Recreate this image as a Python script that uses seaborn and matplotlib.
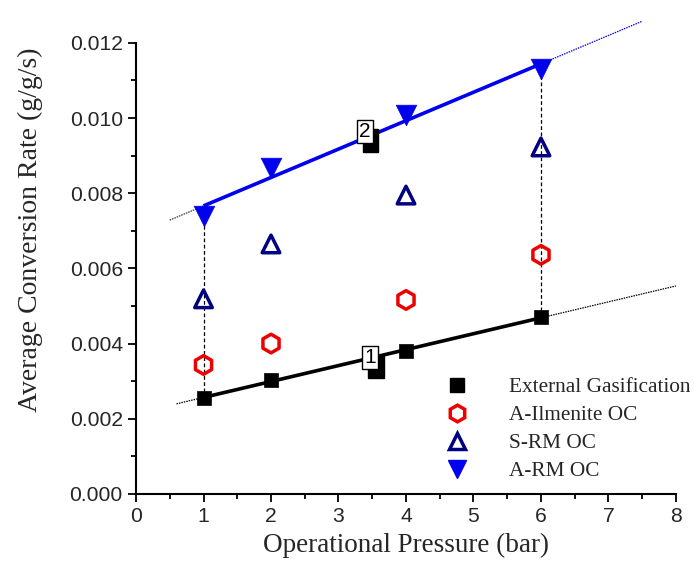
import numpy as np
import pandas as pd
import matplotlib
matplotlib.use("Agg")
import matplotlib.pyplot as plt
import seaborn as sns
from matplotlib.ticker import MultipleLocator, FormatStrFormatter
from matplotlib.lines import Line2D

pressure = [1, 2, 4, 6]
external_gasification = [0.00255, 0.00303, 0.00380, 0.00470]
a_ilmenite = [0.00343, 0.00400, 0.00516, 0.00636]
s_rm = [0.00519, 0.00665, 0.00795, 0.00923]
a_rm = [0.00740, 0.00867, 0.01008, 0.01130]
series_names = ["External Gasification", "A-Ilmenite OC", "S-RM OC", "A-RM OC"]

sns.set_style("ticks")
plt.rcParams["font.family"] = ["Liberation Sans", "DejaVu Sans"]

fig = plt.figure(figsize=(6.94, 5.71), dpi=100)
ax = fig.add_axes([0.196, 0.135, 0.778, 0.790])

serif = ["Liberation Serif", "DejaVu Serif"]

# fit lines
def fit_line(y, color, left_color, x_solid, x_left, x_right):
    k, b = np.polyfit(pressure, y, 1)
    xs = np.array(x_solid)
    ax.plot(xs, k * xs + b, color=color, lw=2.6, zorder=2, solid_capstyle="butt")
    xl = np.array([x_left, x_solid[0]])
    ax.plot(xl, k * xl + b, color=left_color, lw=0.9, ls=(0, (1.2, 0.8)), zorder=1,
            clip_on=False)
    xr = np.array([x_solid[1], x_right])
    ax.plot(xr, k * xr + b, color=color, lw=0.9, ls=(0, (1.2, 0.8)), zorder=1,
            clip_on=False)
    return k, b

fit_line(external_gasification, "black", "black", [1, 6], 0.6, 8.0)
fit_line(a_rm, "#0000ee", "#333333", [1, 6], 0.5, 7.5)

# vertical guides
for i in [0, 3]:
    ax.plot([pressure[i], pressure[i]], [external_gasification[i], a_rm[i]],
            color="black", lw=0.9, ls=(0, (3, 2)), zorder=1)

sns.scatterplot(x=pressure, y=external_gasification, marker="s", s=115,
                color="black", edgecolor="black", linewidth=0.5, ax=ax, zorder=4)
sns.scatterplot(x=pressure, y=a_ilmenite, marker="h", s=180,
                facecolor="none", edgecolor="#ee0000", linewidth=2.5, ax=ax, zorder=4)
sns.scatterplot(x=pressure, y=s_rm, marker="^", s=160,
                facecolor="none", edgecolor="#000080", linewidth=2.5, ax=ax, zorder=4)
sns.scatterplot(x=pressure, y=a_rm, marker="v", s=220,
                color="#0000ee", edgecolor="#0000ee", linewidth=0.5, ax=ax, zorder=4)

# labels with shadow
for txt, (lx, ly) in [("1", (3.47, 0.00362)), ("2", (3.39, 0.00963))]:
    ax.annotate(txt, (lx, ly), xytext=(4, -6), textcoords="offset points",
                ha="center", va="center", fontsize=15, color="black",
                bbox=dict(boxstyle="square,pad=0.1", fc="black", ec="black"), zorder=5)
    ax.annotate(txt, (lx, ly), ha="center", va="center", fontsize=15, color="black",
                bbox=dict(boxstyle="square,pad=0.1", fc="white", ec="black", lw=1.0), zorder=6)

ax.set_xlim(0, 8)
ax.set_ylim(0, 0.012)
ax.xaxis.set_major_locator(MultipleLocator(1))
ax.xaxis.set_minor_locator(MultipleLocator(0.5))
ax.yaxis.set_major_locator(MultipleLocator(0.002))
ax.yaxis.set_minor_locator(MultipleLocator(0.001))
ax.yaxis.set_major_formatter(FormatStrFormatter("%.3f"))
ax.tick_params(which="major", direction="out", length=6, width=1.3, labelsize=15.2, color="black")
ax.tick_params(which="minor", direction="out", length=3.5, width=1.3, color="black")
for sp in ["left", "bottom"]:
    ax.spines[sp].set_linewidth(1.5)
    ax.spines[sp].set_color("black")
sns.despine(ax=ax)

ax.set_xlabel("Operational Pressure (bar)", fontsize=19.5, family=serif, labelpad=5)
ax.set_ylabel("Average Conversion Rate (g/g/s)", fontsize=20, family=serif)
ax.yaxis.set_label_coords(-0.172, 0.585)

handles = [
    Line2D([], [], ls="none", marker="s", ms=10.5, color="black"),
    Line2D([], [], ls="none", marker="h", ms=12, mfc="none", mec="#ee0000", mew=2.5),
    Line2D([], [], ls="none", marker="^", ms=11, mfc="none", mec="#000080", mew=2.5),
    Line2D([], [], ls="none", marker="v", ms=13, color="#0000ee"),
]
ax.legend(handles, series_names, loc="center left", bbox_to_anchor=(0.53, 0.143),
          frameon=False, prop={"family": serif, "size": 15.3},
          labelspacing=0.38, handletextpad=1.7, handlelength=1.5)

fig.savefig("out.png", dpi=100)
